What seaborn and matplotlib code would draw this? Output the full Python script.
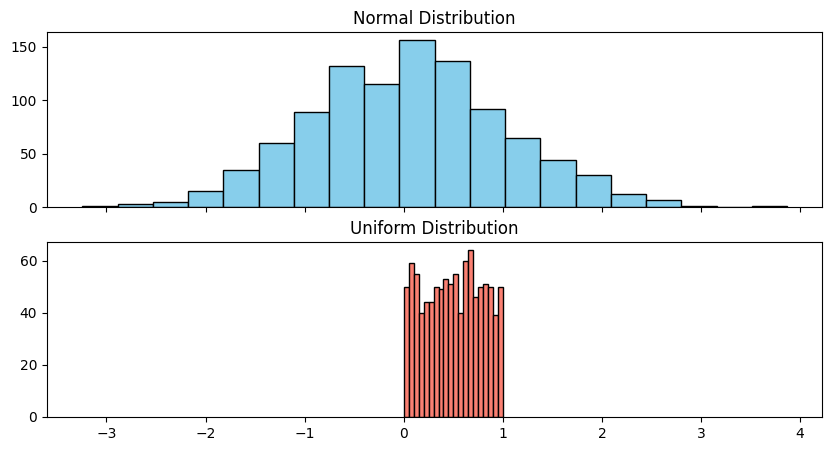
import numpy as np
import pandas as pd
import seaborn as sns
import matplotlib
matplotlib.use("Agg")
import matplotlib.pyplot as plt

# Normal histogram: 20 bins, counts
normal_range = (-3.243, 3.868)
normal_counts = [1, 3, 5, 15, 35, 60, 89, 132, 115, 156,
                 137, 92, 65, 44, 30, 12, 7, 1, 0, 1]

# Uniform histogram: 20 bins
uniform_range = (0.002, 0.999)
uniform_counts = [50, 59, 55, 40, 44, 44, 50, 49, 53, 51,
                  55, 40, 60, 64, 46, 50, 51, 50, 39, 50]


def bin_table(rng, counts):
    edges = np.linspace(rng[0], rng[1], len(counts) + 1)
    centers = (edges[:-1] + edges[1:]) / 2
    return pd.DataFrame({"x": centers, "count": counts}), edges.tolist()


normal_df, normal_edges = bin_table(normal_range, normal_counts)
uniform_df, uniform_edges = bin_table(uniform_range, uniform_counts)

fig, axes = plt.subplots(2, 1, figsize=(8.31, 4.51), dpi=100, sharex=True)
fig.subplots_adjust(left=0.0566, right=0.989, top=0.929, bottom=0.0754, hspace=0.2)

sns.histplot(data=normal_df, x="x", weights="count", bins=normal_edges,
             color="skyblue", edgecolor="black", alpha=1, linewidth=1, ax=axes[0])
axes[0].set_title("Normal Distribution")

sns.histplot(data=uniform_df, x="x", weights="count", bins=uniform_edges,
             color="salmon", edgecolor="black", alpha=1, linewidth=1, ax=axes[1])
axes[1].set_title("Uniform Distribution")

for ax in axes:
    ax.set_xlabel("")
    ax.set_ylabel("")

axes[1].set_xlim(-3.6, 4.22)

fig.savefig("out.png", dpi=100)
